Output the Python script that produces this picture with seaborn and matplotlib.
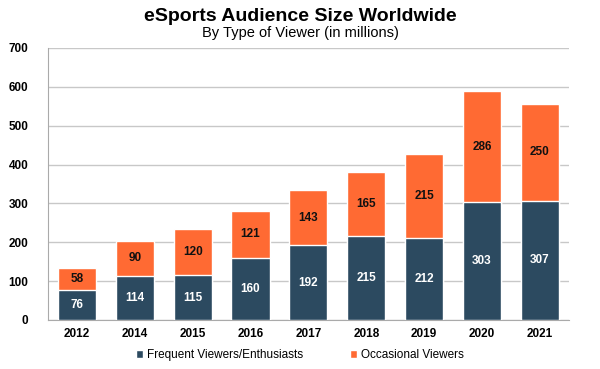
import numpy as np
import pandas as pd
import matplotlib
matplotlib.use("Agg")
import matplotlib.pyplot as plt
import seaborn as sns

years = ["2012", "2014", "2015", "2016", "2017", "2018", "2019", "2020", "2021"]
frequent = [76, 114, 115, 160, 192, 215, 212, 303, 307]
occasional = [58, 90, 120, 121, 143, 165, 215, 286, 250]

navy = "#2C4A60"
orange = "#FF6A33"

df = pd.DataFrame({"year": years, "frequent": frequent, "occasional": occasional})
df["total"] = df["frequent"] + df["occasional"]

sns.set_style("white")
plt.rcParams["font.family"] = ["Liberation Sans", "DejaVu Sans"]
plt.rcParams["text.color"] = "black"

fig = plt.figure(figsize=(6, 3.69), dpi=100)
ax = fig.add_axes([0.08, 0.133, 0.868, 0.737])

# stacked bars: total (orange) first, then frequent (navy) on top
sns.barplot(data=df, x="year", y="total", color=orange, width=0.66,
            saturation=1, ax=ax, zorder=3, label="Occasional Viewers")
sns.barplot(data=df, x="year", y="frequent", color=navy, width=0.66,
            saturation=1, ax=ax, zorder=3, label="Frequent Viewers/Enthusiasts")

for i, (f, o) in enumerate(zip(frequent, occasional)):
    ax.text(i, f / 2, str(f), ha="center", va="center", color="white",
            fontsize=8.5, fontweight="bold", zorder=4)
    ax.text(i, f + o / 2, str(o), ha="center", va="center", color="#111111",
            fontsize=8.5, fontweight="bold", zorder=4)

ax.set_ylim(0, 700)
ax.set_xlim(-0.5, len(years) - 0.5)
ax.set_yticks(range(0, 701, 100))
ax.yaxis.grid(True, color="#C8C8C8", linewidth=1, zorder=0)
ax.set_xlabel("")
ax.set_ylabel("")
for s in ["top", "right"]:
    ax.spines[s].set_visible(False)
ax.spines["left"].set_color("#AAAAAA")
ax.spines["bottom"].set_color("#AAAAAA")
ax.tick_params(axis="both", labelsize=8.5, length=0, pad=6, labelcolor="black")
for lab in ax.get_xticklabels() + ax.get_yticklabels():
    lab.set_fontweight("bold")
ax.set_xticks(np.arange(-0.5, len(years), 1), minor=True)
ax.tick_params(axis="x", which="minor", length=4, color="#AAAAAA", direction="out")
ax.tick_params(axis="y", length=4, color="#AAAAAA", direction="out", pad=10)

fig.text(0.5, 0.955, "eSports Audience Size Worldwide", ha="center", va="center",
         fontsize=14, fontweight="bold")
fig.text(0.5, 0.91, "By Type of Viewer (in millions)", ha="center", va="center",
         fontsize=10.5)

handles, labels = ax.get_legend_handles_labels()
order = [labels.index("Frequent Viewers/Enthusiasts"), labels.index("Occasional Viewers")]
leg = fig.legend([handles[k] for k in order], [labels[k] for k in order],
                 loc="center", bbox_to_anchor=(0.5, 0.038), ncol=2, frameon=False,
                 fontsize=8.5, handlelength=0.6, handleheight=0.6, handletextpad=0.3,
                 columnspacing=4)
if ax.get_legend() is not None:
    ax.get_legend().remove()

fig.savefig("out.png", dpi=100)
